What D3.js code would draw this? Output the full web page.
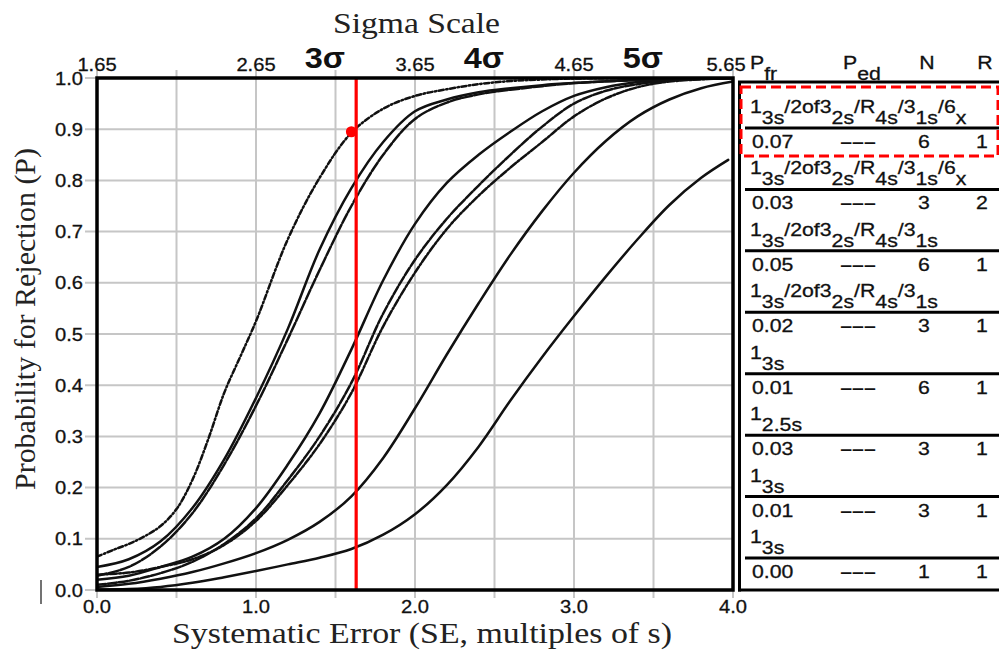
<!DOCTYPE html>
<html><head><meta charset="utf-8">
<script src="https://cdn.jsdelivr.net/npm/d3@7"></script>
<style>body{margin:0;background:#fff}svg{display:block}</style>
</head><body>
<svg id="c" width="999" height="653"></svg>
<script>
// ---------- data ----------
const seTickValues = [0, 1, 2, 3, 4];
const seTickLabels = ["0.0", "1.0", "2.0", "3.0", "4.0"];
const seGridValues = [0, 0.5, 1, 1.5, 2, 2.5, 3, 3.5, 4];
const pTickValues = [0, 0.1, 0.2, 0.3, 0.4, 0.5, 0.6, 0.7, 0.8, 0.9, 1.0];
const pTickLabels = ["0.0", "0.1", "0.2", "0.3", "0.4", "0.5", "0.6", "0.7", "0.8", "0.9", "1.0"];
const sigmaTickValues = [1.65, 2.65, 3.65, 4.65, 5.65];
const sigmaTickLabels = ["1.65", "2.65", "3.65", "4.65", "5.65"];
const sigmaLevels = [3, 4, 5];
const sigmaLevelLabels = ["3σ", "4σ", "5σ"];
const criticalSE = 1.63;
const operatingPoint = [1.6, 0.895];

const curveA = [[0,0.065],[0.1,0.078],[0.2,0.09],[0.3,0.105],[0.4,0.125],[0.5,0.158],[0.6,0.215],[0.7,0.295],[0.8,0.385],[0.9,0.455],[1.0,0.525],[1.2,0.685],[1.4,0.805],[1.6,0.893],[1.8,0.94],[2.0,0.965],[2.2,0.978],[2.4,0.988],[2.6,0.994],[2.8,0.997],[3.0,0.999],[3.5,1.0],[4.0,1.0]];
const curveB = [[0,0.045],[0.2,0.06],[0.4,0.095],[0.6,0.16],[0.8,0.255],[1.0,0.375],[1.2,0.51],[1.4,0.665],[1.6,0.785],[1.8,0.875],[2.0,0.935],[2.2,0.958],[2.4,0.972],[2.6,0.98],[2.8,0.986],[3.0,0.99],[3.4,0.996],[4.0,1.0]];
const curveC = [[0,0.028],[0.2,0.045],[0.4,0.085],[0.6,0.15],[0.8,0.245],[1.0,0.36],[1.2,0.49],[1.4,0.625],[1.6,0.75],[1.8,0.85],[2.0,0.92],[2.2,0.952],[2.4,0.968],[2.6,0.977],[2.8,0.984],[3.0,0.99],[3.4,0.996],[4.0,1.0]];
const curveD = [[0,0.02],[0.2,0.028],[0.4,0.045],[0.6,0.065],[0.8,0.1],[1.0,0.16],[1.2,0.245],[1.4,0.345],[1.6,0.47],[1.8,0.605],[2.0,0.715],[2.2,0.795],[2.4,0.85],[2.6,0.895],[2.8,0.935],[3.0,0.965],[3.2,0.982],[3.4,0.992],[3.6,0.997],[4.0,1.0]];
const curveE = [[0,0.01],[0.2,0.018],[0.4,0.033],[0.6,0.055],[0.8,0.09],[1.0,0.14],[1.2,0.215],[1.4,0.3],[1.6,0.405],[1.8,0.54],[2.0,0.645],[2.2,0.725],[2.4,0.79],[2.6,0.85],[2.8,0.905],[3.0,0.95],[3.2,0.975],[3.4,0.988],[3.6,0.995],[4.0,1.0]];
const curveF = [[0,0.03],[0.2,0.034],[0.4,0.045],[0.6,0.06],[0.8,0.088],[1.0,0.135],[1.2,0.205],[1.4,0.285],[1.6,0.385],[1.8,0.515],[2.0,0.62],[2.2,0.705],[2.4,0.77],[2.6,0.825],[2.8,0.875],[3.0,0.925],[3.2,0.96],[3.4,0.982],[3.6,0.993],[4.0,1.0]];
const curveG = [[0,0.006],[0.2,0.012],[0.4,0.022],[0.6,0.035],[0.8,0.052],[1.0,0.072],[1.2,0.098],[1.4,0.133],[1.6,0.183],[1.8,0.258],[2.0,0.355],[2.2,0.46],[2.4,0.56],[2.6,0.655],[2.8,0.74],[3.0,0.815],[3.2,0.877],[3.4,0.925],[3.6,0.958],[3.8,0.98],[4.0,0.993]];
const curveH = [[0,0.001],[0.2,0.002],[0.4,0.006],[0.6,0.014],[0.8,0.025],[1.0,0.037],[1.2,0.05],[1.4,0.063],[1.6,0.08],[1.8,0.108],[2.0,0.148],[2.2,0.205],[2.4,0.28],[2.6,0.37],[2.8,0.455],[3.0,0.535],[3.2,0.612],[3.4,0.685],[3.6,0.752],[3.8,0.805],[3.97,0.84]];

const legendRules = ["1|3s|/2of3|2s|/R|4s|/3|1s|/6|x", "1|3s|/2of3|2s|/R|4s|/3|1s|/6|x", "1|3s|/2of3|2s|/R|4s|/3|1s", "1|3s|/2of3|2s|/R|4s|/3|1s", "1|3s", "1|2.5s", "1|3s", "1|3s"];
const legendPfr = ["0.07", "0.03", "0.05", "0.02", "0.01", "0.03", "0.01", "0.00"];
const legendPed = ["–––", "–––", "–––", "–––", "–––", "–––", "–––", "–––"];
const legendN = ["6", "3", "6", "3", "6", "3", "3", "1"];
const legendR = ["1", "2", "1", "1", "1", "1", "1", "1"];

// ---------- drawing ----------
const curves = [curveA, curveB, curveC, curveD, curveE, curveF, curveG, curveH];
const curveDash = ["5,2.5,1.5,2.5", null, "10,2", null, "9,2", "7,2,2,2", null, null];
const SX = 1.12;
const SANS = "'Liberation Sans', Arial, sans-serif";
const SERIF = "'Liberation Serif', 'Times New Roman', serif";

const svg = d3.select("#c");
const x = d3.scaleLinear().domain([0, 4]).range([97, 733]);
const sig = d3.scaleLinear().domain([1.65, 5.65]).range([97, 733]);
const y = d3.scaleLinear().domain([0, 1]).range([590, 78]);

function stext(g, px, py, str, o = {}) {
  return g.append("text")
    .attr("transform", `translate(${px},${py}) scale(${o.sx || SX},1)`)
    .attr("text-anchor", o.anchor || "start")
    .attr("font-family", o.family || SANS)
    .attr("font-size", o.size || 18)
    .attr("font-weight", o.weight || "normal")
    .attr("fill", o.fill || "#111")
    .attr("stroke", o.weight === "bold" ? null : "#111")
    .attr("stroke-width", 0.3)
    .text(str);
}

// grid
const grid = svg.append("g").attr("stroke", "#c6c6c6").attr("stroke-width", 2);
grid.selectAll("line.v").data(seGridValues).join("line")
  .attr("x1", d => x(d)).attr("x2", d => x(d)).attr("y1", y(1) - 8).attr("y2", y(0) + 8);
grid.selectAll("line.h").data(pTickValues).join("line")
  .attr("x1", x(0) - 12).attr("x2", x(4)).attr("y1", d => y(d)).attr("y2", d => y(d));

// tick labels
const tl = svg.append("g");
pTickValues.forEach((v, i) => stext(tl, 83, y(v) + 6.5, pTickLabels[i], {anchor: "end", size: 18}));
seTickValues.forEach((v, i) => stext(tl, x(v), 613, seTickLabels[i], {anchor: "middle", size: 18}));
sigmaTickValues.forEach((v, i) => stext(tl, sig(v) - (i === sigmaTickValues.length - 1 ? 7 : 0), 71, sigmaTickLabels[i], {anchor: "middle", size: 18}));
sigmaLevels.forEach((v, i) => stext(tl, sig(v) - 7, 68, sigmaLevelLabels[i], {anchor: "start", size: 29, weight: "bold"}));
svg.append("line").attr("x1", 41).attr("x2", 41).attr("y1", 580).attr("y2", 604).attr("stroke", "#444").attr("stroke-width", 1.5);

// titles
svg.append("text").attr("x", 416.5).attr("y", 33).attr("text-anchor", "middle")
  .attr("font-family", SERIF).attr("font-size", 30).attr("fill", "#222")
  .attr("textLength", 167).attr("lengthAdjust", "spacingAndGlyphs").text("Sigma Scale");
svg.append("text").attr("x", 422).attr("y", 643).attr("text-anchor", "middle")
  .attr("font-family", SERIF).attr("font-size", 30).attr("fill", "#222")
  .attr("textLength", 500).attr("lengthAdjust", "spacingAndGlyphs").text("Systematic Error (SE, multiples of s)");
svg.append("text").attr("transform", "translate(35,319) rotate(-90)").attr("text-anchor", "middle")
  .attr("font-family", SERIF).attr("font-size", 30).attr("fill", "#222")
  .attr("textLength", 342).attr("lengthAdjust", "spacingAndGlyphs").text("Probability for Rejection (P)");

// curves
svg.append("clipPath").attr("id", "pc").append("rect")
  .attr("x", x(0)).attr("y", y(1)).attr("width", x(4) - x(0)).attr("height", y(0) - y(1));
const line = d3.line().x(d => x(d[0])).y(d => y(d[1])).curve(d3.curveCatmullRom.alpha(0.5));
svg.append("g").attr("clip-path", "url(#pc)").selectAll("path").data(curves).join("path")
  .attr("d", line).attr("fill", "none").attr("stroke", "#111").attr("stroke-width", 2.5)
  .attr("stroke-dasharray", (d, i) => curveDash[i]).attr("stroke-linecap", "round");

// critical line and point
svg.append("line").attr("x1", x(criticalSE)).attr("x2", x(criticalSE)).attr("y1", y(0)).attr("y2", y(1))
  .attr("stroke", "#ff0000").attr("stroke-width", 3.2);
svg.append("circle").attr("cx", x(operatingPoint[0])).attr("cy", y(operatingPoint[1])).attr("r", 5.5).attr("fill", "#ff0000");

// plot frame
svg.append("rect").attr("x", x(0)).attr("y", y(1)).attr("width", x(4) - x(0)).attr("height", y(0) - y(1))
  .attr("fill", "none").attr("stroke", "#000").attr("stroke-width", 3.5);

// legend table
const tg = svg.append("g");
tg.append("line").attr("x1", 739.5).attr("x2", 739.5).attr("y1", 81).attr("y2", 591.5).attr("stroke", "#000").attr("stroke-width", 3);
tg.append("line").attr("x1", 738).attr("x2", 999).attr("y1", 82).attr("y2", 82).attr("stroke", "#000").attr("stroke-width", 3);
tg.append("line").attr("x1", 738).attr("x2", 999).attr("y1", 590).attr("y2", 590).attr("stroke", "#000").attr("stroke-width", 3);

function subText(g, px, py, parts, size) {
  const t = g.append("text").attr("transform", `translate(${px},${py}) scale(${SX},1)`)
    .attr("font-family", SANS).attr("font-size", size).attr("fill", "#111")
    .attr("stroke", "#111").attr("stroke-width", 0.3);
  parts.forEach((p, k) => {
    const isSub = k % 2 === 1;
    t.append("tspan").attr("dy", k === 0 ? 0 : (isSub ? 11 : -11)).text(p);
  });
  return t;
}
subText(tg, 750, 69, ["P", "fr"], 19);
subText(tg, 843, 69, ["P", "ed"], 19);
stext(tg, 927, 69, "N", {anchor: "middle", size: 19});
stext(tg, 985, 69, "R", {anchor: "middle", size: 19});

const rowY = d3.scaleLinear().domain([0, legendRules.length - 1]).range([128, 558]);
legendRules.forEach((r, i) => {
  const sy = rowY(i);
  subText(tg, 750, sy - 15, r.split("|"), 19);
  tg.append("line").attr("x1", 745).attr("x2", 999).attr("y1", sy).attr("y2", sy).attr("stroke", "#000").attr("stroke-width", 3);
  stext(tg, 752, sy + 20, legendPfr[i], {size: 19});
  stext(tg, 858, sy + 20, legendPed[i], {anchor: "middle", size: 19, weight: "bold"});
  stext(tg, 924, sy + 20, legendN[i], {anchor: "middle", size: 19});
  stext(tg, 982, sy + 20, legendR[i], {anchor: "middle", size: 19});
});

// highlight box
tg.append("rect").attr("x", 741).attr("y", 87).attr("width", 257).attr("height", 69)
  .attr("fill", "none").attr("stroke", "#ff0000").attr("stroke-width", 3).attr("stroke-dasharray", "10,5");
</script>
</body></html>
